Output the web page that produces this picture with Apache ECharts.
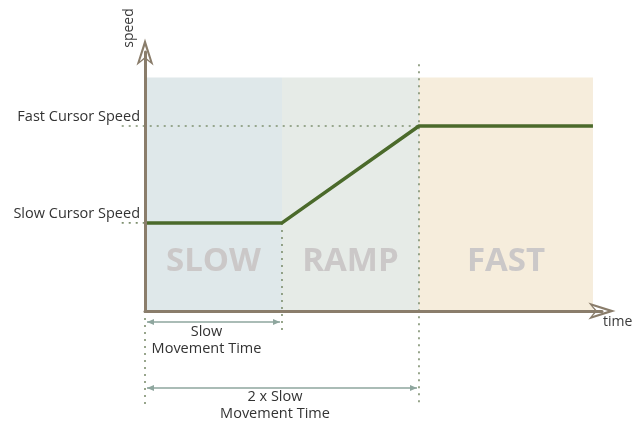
<!DOCTYPE html>
<html>
<head>
<meta charset="utf-8">
<script src="https://cdn.jsdelivr.net/npm/echarts@6/dist/echarts.min.js"></script>
<style>
  html, body { margin: 0; padding: 0; background: #fff; }
  #chart { width: 637px; height: 421px; }
</style>
</head>
<body>
<div id="chart"></div>
<script>
// time is measured in "slow movement time" units, speed in arbitrary units
const phaseNames = ['SLOW', 'RAMP', 'FAST'];
const phaseBounds = [0, 1, 2, 3.27];
const phaseColors = ['#dfe8ea', '#e6ebe7', '#f6eddc'];
const regionTop = 2.65;

const speedTime = [0, 1, 2, 3.27];
const speedValues = [1, 1, 2.1, 2.1];

const slowSpeed = 1;
const fastSpeed = 2.1;
const speedLabels = ['Slow Cursor Speed', 'Fast Cursor Speed'];

// dotted helper lines: [x1, y1, x2, y2]
const guideSegments = [
    [-0.17, 2.1, 2, 2.1],
    [-0.17, 1, 0, 1],
    [1, 1, 1, -0.22],
    [2, 2.8, 2, -1.07],
    [0, 0, 0, -1.07]
];

// dimension arrows under the time axis
const spanEnds = [1, 2];
const spanLabels = ['Slow\nMovement Time', '2 x Slow\nMovement Time'];

const FONT = '"Open Sans", "Noto Sans", sans-serif';
const axisColor = '#8a7d6b';
const arrowPath = 'path://M10,0 L20,32 L10,24 L0,32 Z M10,9 L4,27 L10,21.5 L16,27 Z';

var chart = echarts.init(document.getElementById('chart'));

var option = {
    animation: false,
    grid: { left: 145, right: 35, top: 52, bottom: 110 },
    xAxis: {
        type: 'value',
        min: 0,
        max: 3.336,
        z: 5,
        splitLine: { show: false },
        axisTick: { show: false },
        axisLabel: { show: false },
        axisLine: {
            lineStyle: { color: axisColor, width: 3 },
            symbol: ['none', arrowPath],
            symbolSize: [17, 30]
        },
        name: 'time',
        nameLocation: 'end',
        nameGap: 1,
        nameTextStyle: {
            color: '#3a3a3a', fontFamily: FONT, fontSize: 14,
            align: 'left', verticalAlign: 'top', padding: [4, 0, 0, 0]
        }
    },
    yAxis: {
        type: 'value',
        min: 0,
        max: 2.94,
        interval: 0.1,
        z: 5,
        splitLine: { show: false },
        axisTick: { show: false },
        axisLine: {
            lineStyle: { color: axisColor, width: 3 },
            symbol: ['none', arrowPath],
            symbolSize: [17, 30]
        },
        axisLabel: {
            margin: 5,
            verticalAlign: 'bottom',
            padding: [0, 0, 2, 0],
            color: '#333',
            fontFamily: FONT,
            fontSize: 14.5,
            formatter: function (v) {
                if (Math.abs(v - slowSpeed) < 1e-6) return speedLabels[0];
                if (Math.abs(v - fastSpeed) < 1e-6) return speedLabels[1];
                return '';
            }
        }
    },
    graphic: [{
        type: 'text',
        x: 129,
        y: 28,
        rotation: Math.PI / 2,
        style: {
            text: 'speed', fill: '#3a3a3a', fontFamily: FONT, fontSize: 14,
            align: 'center', verticalAlign: 'middle'
        }
    }],
    series: [
        {
            // shaded phases
            type: 'custom',
            z: 1,
            silent: true,
            data: phaseNames.map(function (n, i) { return [phaseBounds[i], phaseBounds[i + 1], i]; }),
            renderItem: function (params, api) {
                var i = api.value(2);
                var p0 = api.coord([api.value(0), 0]);
                var p1 = api.coord([api.value(1), regionTop]);
                return {
                    type: 'group',
                    children: [{
                        type: 'rect',
                        shape: { x: p0[0], y: p1[1], width: p1[0] - p0[0], height: p0[1] - p1[1] },
                        style: { fill: phaseColors[i] }
                    }, {
                        type: 'text',
                        style: {
                            text: phaseNames[i],
                            x: (p0[0] + p1[0]) / 2,
                            y: p0[1] - 49,
                            align: 'center',
                            verticalAlign: 'middle',
                            fill: '#cbc8c8',
                            fontFamily: FONT,
                            fontWeight: 'bold',
                            fontSize: 33
                        }
                    }]
                };
            }
        },
        {
            // dotted guides
            type: 'custom',
            z: 2,
            silent: true,
            data: guideSegments,
            renderItem: function (params, api) {
                var a = api.coord([api.value(0), api.value(1)]);
                var b = api.coord([api.value(2), api.value(3)]);
                return {
                    type: 'line',
                    shape: { x1: a[0], y1: a[1], x2: b[0], y2: b[1] },
                    style: { stroke: '#7f9070', lineWidth: 1.6, lineDash: [2, 5] }
                };
            }
        },
        {
            // dimension arrows
            type: 'custom',
            z: 2,
            silent: true,
            data: spanEnds.map(function (e, i) { return [0, e, i]; }),
            renderItem: function (params, api) {
                var i = api.value(2);
                var lvl = [-0.125, -0.875][i];
                var a = api.coord([api.value(0), lvl]);
                var b = api.coord([api.value(1), lvl]);
                var x1 = a[0] + 2, x2 = b[0] - 2, y = a[1];
                var col = '#8ea69e';
                return {
                    type: 'group',
                    children: [{
                        type: 'line',
                        shape: { x1: x1, y1: y, x2: x2, y2: y },
                        style: { stroke: col, lineWidth: 1.5 }
                    }, {
                        type: 'polygon',
                        shape: { points: [[x1, y], [x1 + 7, y - 3], [x1 + 7, y + 3]] },
                        style: { fill: col }
                    }, {
                        type: 'polygon',
                        shape: { points: [[x2, y], [x2 - 7, y - 3], [x2 - 7, y + 3]] },
                        style: { fill: col }
                    }, {
                        type: 'text',
                        style: {
                            text: spanLabels[i],
                            x: (x1 + x2) / 2 - 7,
                            y: y + (i === 0 ? 1 : 0),
                            align: 'center',
                            verticalAlign: 'top',
                            fill: '#333',
                            fontFamily: FONT,
                            fontSize: 14.5,
                            lineHeight: 17
                        }
                    }]
                };
            }
        },
        {
            type: 'line',
            z: 3,
            silent: true,
            symbol: 'none',
            data: speedTime.map(function (t, i) { return [t, speedValues[i]]; }),
            lineStyle: { color: '#4b6a2b', width: 3.5 }
        }
    ]
};

chart.setOption(option);
</script>
</body>
</html>
